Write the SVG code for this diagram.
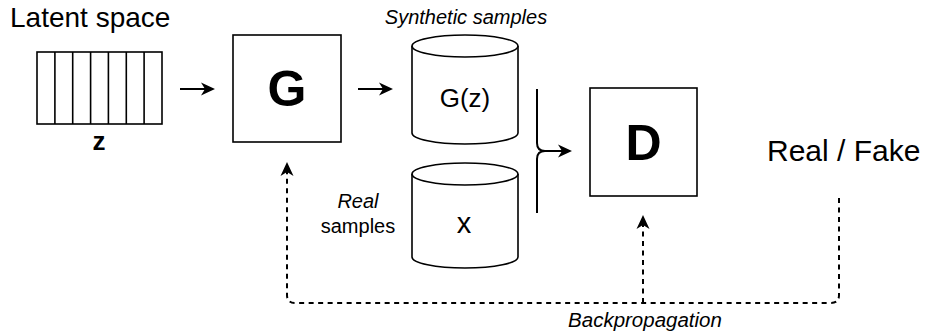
<svg xmlns="http://www.w3.org/2000/svg" width="932" height="336" viewBox="0 0 932 336">
<style>
  .box{fill:#fff;stroke:#000;stroke-width:1.6}
  .ln{fill:none;stroke:#000;stroke-width:2}
  .dash{fill:none;stroke:#000;stroke-width:2;stroke-dasharray:5 4.5}
  .t{font-family:"Liberation Sans",Arial,sans-serif;fill:#000}
  .it{font-style:italic}
  .b{font-weight:bold}
</style>
<defs>
  <marker id="arr" viewBox="0 0 16 16" refX="12" refY="8" markerWidth="16" markerHeight="16" orient="auto" markerUnits="userSpaceOnUse">
    <path d="M0,1.5 L14,8 L0,14.5 L4,8 Z" fill="#000"/>
  </marker>
</defs>
<rect width="932" height="336" fill="#fff"/>

<g id="latent">
  <text class="t" x="10" y="27" font-size="28">Latent space</text>
  <rect class="box" x="37" y="52" width="125" height="72"/>
  <path class="box" d="M54.9,52 V124 M72.7,52 V124 M90.6,52 V124 M108.4,52 V124 M126.3,52 V124 M144.1,52 V124"/>
  <text class="t b" x="99" y="150" font-size="26" text-anchor="middle">z</text>
</g>

<g id="generator">
  <rect class="box" x="233" y="35" width="108" height="107"/>
  <text class="t b" x="287" y="106" font-size="50" text-anchor="middle">G</text>
</g>

<g id="synthetic">
  <text class="t it" x="466" y="24" font-size="20" text-anchor="middle">Synthetic samples</text>
  <path class="box" d="M412,46 A53,11 0 0 1 518,46 V133 A53,11 0 0 1 412,133 Z"/>
  <path class="box" d="M412,46 A53,11 0 0 0 518,46"/>
  <text class="t" x="465" y="107" font-size="26" text-anchor="middle">G(z)</text>
</g>

<g id="real">
  <text class="t it" x="358" y="208" font-size="20" text-anchor="middle">Real</text>
  <text class="t" x="358" y="233" font-size="20" text-anchor="middle">samples</text>
  <path class="box" d="M412,174 A53,11 0 0 1 518,174 V257 A53,11 0 0 1 412,257 Z"/>
  <path class="box" d="M412,174 A53,11 0 0 0 518,174"/>
  <text class="t" x="464" y="233" font-size="29" text-anchor="middle">x</text>
</g>

<g id="discriminator">
  <rect class="box" x="590" y="88" width="107" height="108"/>
  <text class="t b" x="643.5" y="160" font-size="50" text-anchor="middle">D</text>
</g>

<g id="output">
  <text class="t" x="767" y="161" font-size="30">Real / Fake</text>
</g>

<g id="connectors">
  <path class="ln" d="M180,89 H213" marker-end="url(#arr)"/>
  <path class="ln" d="M358,89 H391" marker-end="url(#arr)"/>
  <path class="ln" d="M537,89 V143 Q537,151 545,151 M537,213 V159 Q537,151 545,151"/>
  <path class="ln" d="M545,151 H570" marker-end="url(#arr)"/>
  <path class="dash" d="M839,198 V295 Q839,303 831,303 H295 Q287,303 287,295 V164" marker-end="url(#arr)"/>
  <path class="dash" d="M643,303 V217" marker-end="url(#arr)"/>
  <text class="t it" x="645" y="327" font-size="20.5" text-anchor="middle">Backpropagation</text>
</g>
</svg>
